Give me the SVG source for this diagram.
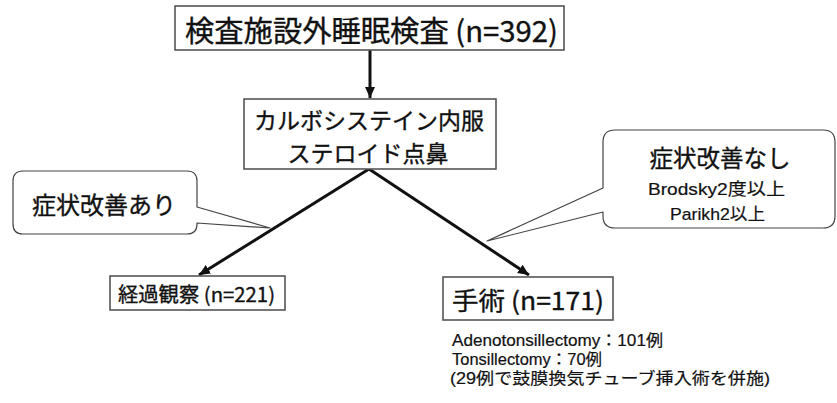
<svg xmlns="http://www.w3.org/2000/svg" width="837" height="403" viewBox="0 0 837 403">
  <style>
    .box { fill: #fff; stroke: #555; stroke-width: 1.6; }
    .callout { fill: #fff; stroke: #444; stroke-width: 1.2; stroke-linejoin: round; }
    .conn { stroke: #111; stroke-width: 3; fill: none; }
    text { font-family: "Noto Sans CJK JP", "Noto Sans", sans-serif; fill: #111; stroke: #111; stroke-width: 0.35; }
    .lat { font-family: "Liberation Sans", "Noto Sans CJK JP", sans-serif; stroke-width: 0.2; }
    .mid { text-anchor: middle; }
  </style>
  <defs>
    <marker id="arrow" markerUnits="userSpaceOnUse" markerWidth="12" markerHeight="12" viewBox="0 0 12 12" refX="11" refY="6" orient="auto">
      <path d="M0,1 L11,6 L0,11 Z" fill="#111"/>
    </marker>
  </defs>
  <rect width="837" height="403" fill="#fff"/>

  <g id="connectors">
    <line class="conn" x1="370" y1="50" x2="370" y2="98" marker-end="url(#arrow)"/>
    <line class="conn" x1="369" y1="169" x2="199" y2="275" marker-end="url(#arrow)"/>
    <line class="conn" x1="369" y1="169" x2="529" y2="275" marker-end="url(#arrow)"/>
  </g>

  <g id="node-top">
    <rect class="box" x="175" y="6" width="389" height="44"/>
    <text x="185" y="42" font-size="29" textLength="373" lengthAdjust="spacingAndGlyphs">検査施設外睡眠検査 (n=392)</text>
  </g>

  <g id="node-treatment">
    <rect class="box" x="244" y="99" width="252" height="70"/>
    <text class="mid" x="369" y="129" font-size="23">カルボシステイン内服</text>
    <text class="mid" x="368" y="162" font-size="23">ステロイド点鼻</text>
  </g>

  <g id="callout-improved">
    <path class="callout" d="M23,171 H187 Q197,171 197,181 V207 L270,228 L197,223 V224 Q197,234 187,234 H23 Q13,234 13,224 V181 Q13,171 23,171 Z"/>
    <text class="mid" x="104" y="214" font-size="24">症状改善あり</text>
  </g>

  <g id="callout-not-improved">
    <path class="callout" d="M615,130 H823 Q835,130 835,142 V216 Q835,228 823,228 H615 Q603,228 603,216 V212 L487,241 L603,188 V142 Q603,130 615,130 Z"/>
    <text class="mid" x="720" y="167" font-size="23.5">症状改善なし</text>
    <text class="lat" x="648" y="195" font-size="17" textLength="137" lengthAdjust="spacingAndGlyphs">Brodsky2度以上</text>
    <text class="lat" x="670" y="220" font-size="17" textLength="95" lengthAdjust="spacingAndGlyphs">Parikh2以上</text>
  </g>

  <g id="node-observation">
    <rect class="box" x="110" y="276" width="175" height="34"/>
    <text x="118" y="302" font-size="20" textLength="157" lengthAdjust="spacingAndGlyphs">経過観察 (n=221)</text>
  </g>

  <g id="node-surgery">
    <rect class="box" x="443" y="277" width="170" height="43"/>
    <text x="452" y="310" font-size="25" textLength="152" lengthAdjust="spacingAndGlyphs">手術 (n=171)</text>
  </g>

  <g id="surgery-details">
    <text class="lat" x="452" y="346" font-size="16" textLength="211" lengthAdjust="spacingAndGlyphs">Adenotonsillectomy：101例</text>
    <text class="lat" x="452" y="365" font-size="16" textLength="150" lengthAdjust="spacingAndGlyphs">Tonsillectomy：70例</text>
    <text class="lat" x="450" y="384" font-size="16" textLength="320" lengthAdjust="spacingAndGlyphs">(29例で鼓膜換気チューブ挿入術を併施)</text>
  </g>
</svg>
